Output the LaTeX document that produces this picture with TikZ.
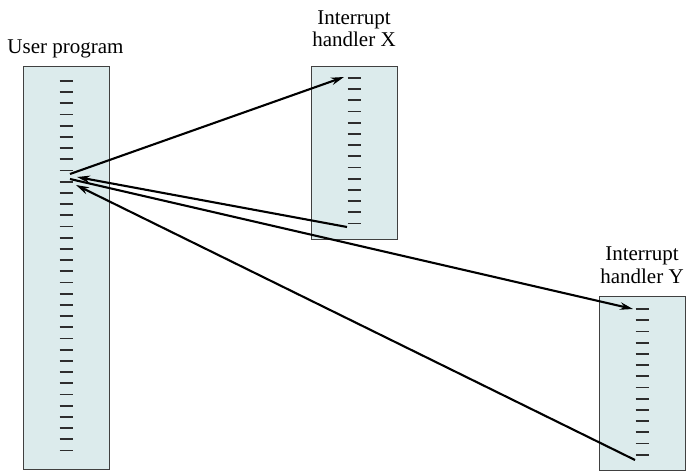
\documentclass[tikz,border=0pt]{standalone}
\usepackage{fontspec}
\setmainfont{Liberation Serif}
\usepackage{xcolor}
\usetikzlibrary{arrows.meta}
\definecolor{memfill}{RGB}{220,235,236}
\definecolor{instrgray}{RGB}{45,45,45}
\tikzset{>={Stealth[length=13pt,width=7.5pt]}}

\begin{document}
\begin{tikzpicture}[x=10pt, y=10pt,
    prog/.style={draw=black!75, line width=0.9pt, fill=memfill, inner sep=0pt,
                 minimum width=86pt, anchor=north west},
    instr/.style={draw=instrgray, line width=1.8pt},
    flow/.style={->, line width=2.1pt},
    lbl/.style={font=\fontsize{21}{22}\selectfont, align=center, inner sep=0pt}]
    \useasboundingbox (0, 0) rectangle (68.6, 47.2);
    % programs
    \node[prog, minimum height=403pt] (user) at (2.3, 40.6) {};
    \node[prog, minimum height=173pt] (hx) at (31.1, 40.6) {};
    \node[prog, minimum height=174pt] (hy) at (59.9, 17.6) {};
    \foreach \k in {0,...,33}
        \draw[instr] (5.95, 39.1-1.12*\k) -- ++(1.3, 0);
    \foreach \k in {0,...,13} {
        \draw[instr] (34.75, 39.4-1.12*\k) -- ++(1.3, 0);
        \draw[instr] (63.55, 16.3-1.12*\k) -- ++(1.3, 0);
    }
    \node[lbl, anchor=base] (userlbl) at (6.55, 41.8) {User program};
    \node[lbl, anchor=base] (hxlbl) at (35.4, 42.5) {Interrupt\\handler X};
    \node[lbl, anchor=base] (hylbl) at (64.2, 18.9) {Interrupt\\handler Y};
    % transfer of control
    \coordinate (ucall) at (7.0, 29.8);
    \coordinate (uback) at (7.7, 29.5);
    \coordinate (ucall2) at (7.0, 29.3);
    \coordinate (uback2) at (7.6, 28.7);
    \coordinate (xin) at (34.4, 39.5);
    \coordinate (xout) at (34.7, 24.5);
    \coordinate (yin) at (63.3, 16.3);
    \coordinate (yout) at (63.5, 1.2);
    \draw[flow] (ucall) -- (xin);
    \draw[flow] (xout) -- (uback);
    \draw[flow] (ucall2) -- (yin);
    \draw[flow] (yout) -- (uback2);
\end{tikzpicture}
\end{document}
